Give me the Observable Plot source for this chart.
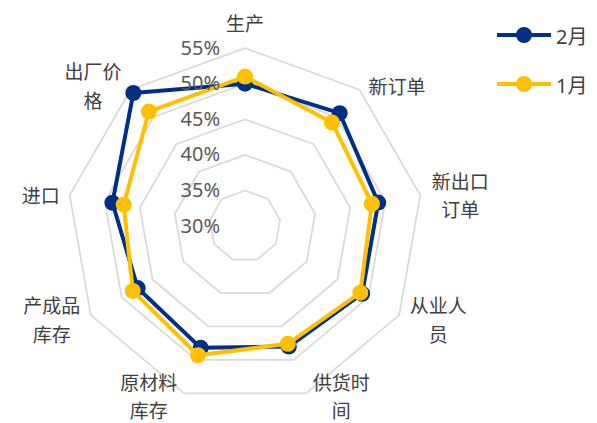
<!DOCTYPE html>
<html><head><meta charset="utf-8">
<script src="https://cdn.jsdelivr.net/npm/d3@7"></script>
<script src="https://cdn.jsdelivr.net/npm/@observablehq/plot@0.6"></script>
<style>
body{margin:0;background:#fff;}
#wrap{position:relative;width:597px;height:423px;overflow:hidden;}
#legend{position:absolute;left:497px;top:0;font-family:"Noto Sans","Noto Sans CJK SC",sans-serif;font-size:20px;color:#404040;}
.item{position:absolute;left:0;height:24px;display:flex;align-items:center;white-space:nowrap;}
.item span{margin-left:5px;}
g[aria-label="cat-labels"] text{letter-spacing:3px;}
</style></head><body><div id="wrap"><div id="legend"></div></div>
<script>
const categories = ["生产","新订单","新出口订单","从业人员","供货时间","原材料库存","产成品库存","进口","出厂价格"];
const labelText = ["生产","新订单","新出口\n订单","从业人\n员","供货时\n间","原材料\n库存","产成品\n库存","进口","出厂价\n格"];
const feb = [50.0, 50.7, 49.0, 49.0, 48.0, 48.2, 47.4, 48.9, 54.4];
const jan = [51.0, 49.0, 48.1, 48.7, 47.6, 49.3, 48.2, 47.3, 51.0];
const ticks = [30, 35, 40, 45, 50, 55];
const seriesNames = ["2月", "1月"];
const seriesColors = ["#002F86", "#FFC000"];

const minV = 30, maxV = 55;
const W = 597, H = 423;
const cx = 244.5, cy = 225.6, outerR = 178;
const ppu = outerR / (maxV - minV);
const n = categories.length;
const ang = i => 2 * Math.PI * i / n;
const X = (i, v) => (v - minV) * Math.sin(ang(i));
const Y = (i, v) => (v - minV) * Math.cos(ang(i));

const rings = ticks.filter(t => t > minV).flatMap(t => d3.range(n + 1).map(k => ({t, i: k % n})));
const seriesVals = [feb, jan];
const lineRows = seriesVals.map((vals, s) => d3.range(n + 1).map(k => ({s, i: k % n, v: vals[k % n]})));
const dotRows = seriesVals.map((vals, s) => d3.range(n).map(i => ({s, i, v: vals[i]})));

const charAdv = 22, labR = 185 / ppu;
const labels = labelText.map((text, i) => {
  const lines = text.split("\n");
  const maxLen = d3.max(lines, l => l.length);
  const s = Math.sin(ang(i)), c = Math.cos(ang(i));
  let x, y;
  if (Math.abs(s) < 0.1) { x = 0; y = labR + 19 / ppu; }
  else {
    x = labR * s + Math.sign(s) * (maxLen * charAdv / 2) / ppu;
    y = labR * c + (c < -0.9 ? 5 / ppu : 0);
  }
  return {text, x, y};
});

const marks = [
  Plot.line(rings, {x: d => X(d.i, d.t), y: d => Y(d.i, d.t), z: "t", stroke: "#D9D9D9", strokeWidth: 1.75, curve: "linear"})
];
seriesVals.forEach((vals, s) => {
  marks.push(Plot.line(lineRows[s], {x: d => X(d.i, d.v), y: d => Y(d.i, d.v), stroke: seriesColors[s], strokeWidth: 4, strokeLinejoin: "round"}));
  marks.push(Plot.dot(dotRows[s], {x: d => X(d.i, d.v), y: d => Y(d.i, d.v), r: 8, fill: seriesColors[s], stroke: "none"}));
});
marks.push(Plot.text(ticks, {x: 0, y: t => t - minV, text: t => t + "%", textAnchor: "end", dx: -25, fontSize: 20, fontFamily: "Noto Sans", fill: "#595959"}));
marks.push(Plot.text(labels, {x: "x", y: "y", text: "text", textAnchor: "middle", lineAnchor: "middle", lineHeight: 1.5, fontSize: 19, fontFamily: "Noto Sans CJK SC", fill: "#404040", ariaLabel: "cat-labels"}));

const chart = Plot.plot({
  width: W, height: H, margin: 0,
  x: {domain: [-cx / ppu, (W - cx) / ppu], axis: null},
  y: {domain: [-(H - cy) / ppu, cy / ppu], axis: null},
  style: {background: "white", overflow: "visible"},
  marks
});
const wrap = document.getElementById("wrap");
wrap.insertBefore(chart, wrap.firstChild);

const legend = document.getElementById("legend");
const legendY = [35, 84];
seriesNames.forEach((name, s) => {
  const item = document.createElement("div");
  item.className = "item";
  item.style.top = (legendY[s] - 12) + "px";
  item.innerHTML = `<svg width="54" height="20"><line x1="0" x2="54" y1="10" y2="10" stroke="${seriesColors[s]}" stroke-width="4"/><circle cx="27" cy="10" r="8" fill="${seriesColors[s]}"/></svg><span>${name}</span>`;
  legend.appendChild(item);
});
</script></body></html>
